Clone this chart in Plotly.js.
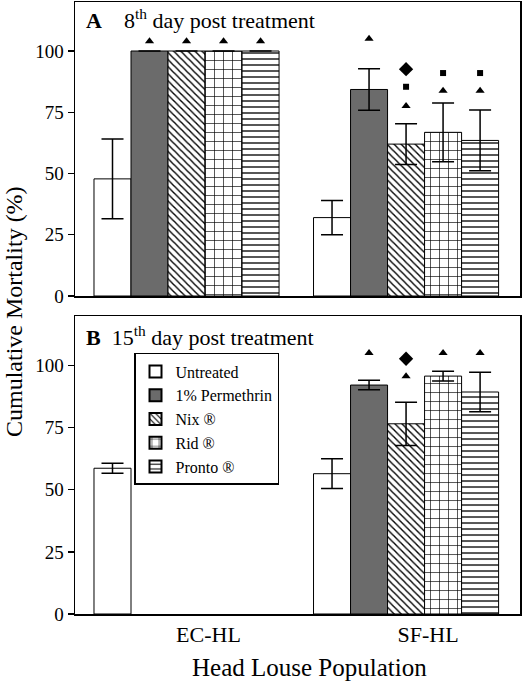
<!DOCTYPE html>
<html>
<head>
<meta charset="utf-8">
<script src="https://cdn.plot.ly/plotly-3.0.1.min.js"></script>
<style>html,body{margin:0;padding:0;background:#fff;}#chart{width:525px;height:685px;}</style>
</head>
<body>
<div id="chart"></div>
<script>
// ---- data ----
const groups = ['EC-HL', 'SF-HL'];
const treatments = ['Untreated', '1% Permethrin', 'Nix ®', 'Rid ®', 'Pronto ®'];

// Panel A: 8th day post treatment (mean, error)
const day8Untreated   = [47.8, 32.0];
const day8UntreatedE  = [16.3, 7.0];
const day8Permethrin  = [100, 84.3];
const day8PermethrinE = [null, 8.5];
const day8Nix         = [100, 62.0];
const day8NixE        = [null, 8.3];
const day8Rid         = [100, 66.8];
const day8RidE        = [null, 12.0];
const day8Pronto      = [100, 63.5];
const day8ProntoE     = [null, 12.4];

// Panel B: 15th day post treatment
const day15Untreated   = [58.7, 56.5];
const day15UntreatedE  = [2.0, 6.0];
const day15Permethrin  = [null, 92.2];
const day15PermethrinE = [null, 1.9];
const day15Nix         = [null, 76.6];
const day15NixE        = [null, 8.7];
const day15Rid         = [null, 95.8];
const day15RidE        = [null, 2.0];
const day15Pronto      = [null, 89.4];
const day15ProntoE     = [null, 8.0];

// significance symbols (height per treatment, per group)
const day8TriangleEC   = [null, 104, 104, 104, 104];
const day8TriangleSF   = [null, 105, 77.6, 83.8, 83.8];
const day8SquareSF     = [null, null, 85.4, 91, 91];
const day8DiamondSF    = [null, null, 92.6, null, null];
const day15TriangleSF  = [null, 105.1, 95.7, 105.1, 105.1];
const day15DiamondSF   = [null, null, 102.8, null, null];

const yTicks = [0, 25, 50, 75, 100];

// ---- styles ----
const groupWidth = 0.843;
const nT = treatments.length;
const slot = groupWidth / nT;
const offsetOf = i => -groupWidth / 2 + (i + 0.5) * slot;

const styles = [
  {color: 'white'},
  {color: '#6b6b6b'},
  {color: 'white', pattern: {shape: '\\', size: 5, solidity: 0.28, fgcolor: 'black', bgcolor: 'white'}},
  {color: 'white', pattern: {shape: '+', size: 9, solidity: 0.14, fgcolor: 'black', bgcolor: 'white'}},
  {color: 'white', pattern: {shape: '-', size: 6, solidity: 0.22, fgcolor: 'black', bgcolor: 'white'}}
];

const panels = [
  {means: [day8Untreated, day8Permethrin, day8Nix, day8Rid, day8Pronto],
   errs: [day8UntreatedE, day8PermethrinE, day8NixE, day8RidE, day8ProntoE],
   xa: 'x', ya: 'y', legend: false},
  {means: [day15Untreated, day15Permethrin, day15Nix, day15Rid, day15Pronto],
   errs: [day15UntreatedE, day15PermethrinE, day15NixE, day15RidE, day15ProntoE],
   xa: 'x2', ya: 'y2', legend: true}
];

const traces = [];
panels.forEach(p => {
  treatments.forEach((t, i) => {
    traces.push({
      type: 'bar',
      name: t,
      x: groups.map((g, gi) => gi + offsetOf(i)),
      y: p.means[i],
      width: slot,
      xaxis: p.xa, yaxis: p.ya,
      showlegend: p.legend,
      marker: Object.assign({line: {color: 'black', width: 1}}, styles[i]),
      error_y: {type: 'data', array: p.errs[i], visible: true, color: 'black', thickness: 1.5, width: 11},
      hoverinfo: 'skip'
    });
  });
});

function symTrace(yvals, groupIdx, symbol, size, xa, ya) {
  return {
    type: 'scatter', mode: 'markers',
    x: treatments.map((t, i) => groupIdx + offsetOf(i)),
    y: yvals,
    xaxis: xa, yaxis: ya, showlegend: false, hoverinfo: 'skip',
    marker: {symbol: symbol, size: size, color: 'black'}
  };
}
traces.push(symTrace(day8TriangleEC, 0, 'triangle-up', 8, 'x', 'y'));
traces.push(symTrace(day8TriangleSF, 1, 'triangle-up', 8, 'x', 'y'));
traces.push(symTrace(day8SquareSF, 1, 'square', 6, 'x', 'y'));
traces.push(symTrace(day8DiamondSF, 1, 'diamond', 11, 'x', 'y'));
traces.push(symTrace(day15TriangleSF, 1, 'triangle-up', 8, 'x2', 'y2'));
traces.push(symTrace(day15DiamondSF, 1, 'diamond', 11, 'x2', 'y2'));

const serif = 'Liberation Serif';
const xRange = [-0.508, 1.519];
const baseX = {
  range: xRange, showgrid: false, zeroline: false,
  showline: true, mirror: true, linecolor: 'black', linewidth: 1.5,
  ticks: '', tickvals: groups.map((g, gi) => gi + 0.1), ticktext: groups,
  tickfont: {family: serif, size: 22, color: 'black'}
};
const baseY = {
  range: [0, 120], showgrid: false, zeroline: false,
  showline: true, mirror: true, linecolor: 'black', linewidth: 1.5,
  ticks: 'outside', ticklen: 6, tickwidth: 1.2, tickcolor: 'black',
  tickvals: yTicks, ticktext: yTicks.map(String),
  tickfont: {family: serif, size: 19, color: 'black'}
};

const layout = {
  width: 525, height: 685,
  margin: {l: 75, r: 5, t: 2, b: 71},
  paper_bgcolor: 'white', plot_bgcolor: 'white',
  font: {family: serif, color: 'black'},
  xaxis: Object.assign({}, baseX, {anchor: 'y', showticklabels: false}),
  yaxis: Object.assign({}, baseY, {anchor: 'x', domain: [0.5196, 1]}),
  xaxis2: Object.assign({}, baseX, {anchor: 'y2', showticklabels: true}),
  yaxis2: Object.assign({}, baseY, {anchor: 'x2', domain: [0, 0.4869]}),
  showlegend: true,
  legend: {
    x: 0.1326, y: 0.4265, xanchor: 'left', yanchor: 'top',
    bgcolor: 'white', bordercolor: 'black', borderwidth: 1.5,
    font: {family: serif, size: 16, color: 'black'},
    tracegroupgap: 0, itemsizing: 'constant'
  },
  annotations: [
    {xref: 'x domain', yref: 'y domain', x: 0.02, y: 0.995, xanchor: 'left', yanchor: 'top',
     text: '<b>A</b>&nbsp;&nbsp;&nbsp;&nbsp;8<sup>th</sup> day post treatment', showarrow: false,
     font: {family: serif, size: 22, color: 'black'}},
    {xref: 'x2 domain', yref: 'y2 domain', x: 0.02, y: 0.985, xanchor: 'left', yanchor: 'top',
     text: '<b>B</b>&nbsp;&nbsp;15<sup>th</sup> day post treatment', showarrow: false,
     font: {family: serif, size: 22, color: 'black'}},
    {xref: 'paper', yref: 'paper', x: 0.526, y: -0.088, xanchor: 'center', yanchor: 'middle',
     text: 'Head Louse Population', showarrow: false,
     font: {family: serif, size: 25, color: 'black'}},
    {xref: 'paper', yref: 'paper', x: -0.137, y: 0.4935, xanchor: 'center', yanchor: 'middle',
     text: 'Cumulative Mortality (%)', textangle: -90, showarrow: false,
     font: {family: serif, size: 24, color: 'black'}}
  ]
};

Plotly.newPlot('chart', traces, layout, {displayModeBar: false, staticPlot: true});
</script>
</body>
</html>
